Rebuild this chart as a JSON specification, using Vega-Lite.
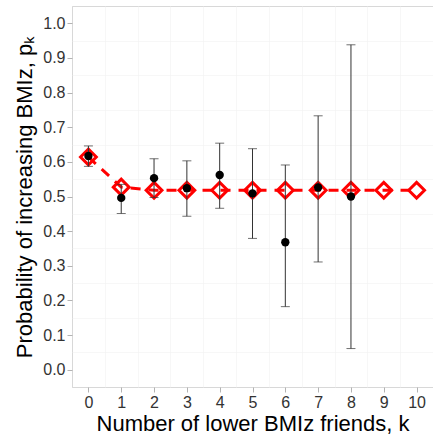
{
  "$schema": "https://vega.github.io/schema/vega-lite/v6.json",
  "autosize": "none",
  "width": 361,
  "height": 381,
  "padding": {"left": 72, "top": 6, "right": 0, "bottom": 49},
  "background": "white",
  "config": {
    "view": {"stroke": "#b3b3b3", "strokeWidth": 1},
    "axis": {
      "labelFont": "Liberation Sans",
      "titleFont": "Liberation Sans",
      "labelColor": "#333333",
      "titleColor": "#000000",
      "labelFontSize": 16,
      "titleFontSize": 22,
      "titleFontWeight": "normal",
      "domain": false,
      "tickColor": "#b3b3b3",
      "tickSize": 5,
      "gridColor": "#e6e6e6",
      "gridWidth": 0.8
    }
  },
  "datasets": {
    "observed": [
      {"k": 0, "p": 0.617, "lo": 0.587, "hi": 0.646},
      {"k": 1, "p": 0.496, "lo": 0.451, "hi": 0.535},
      {"k": 2, "p": 0.553, "lo": 0.497, "hi": 0.609},
      {"k": 3, "p": 0.524, "lo": 0.443, "hi": 0.603},
      {"k": 4, "p": 0.562, "lo": 0.466, "hi": 0.654},
      {"k": 5, "p": 0.509, "lo": 0.379, "hi": 0.638},
      {"k": 6, "p": 0.368, "lo": 0.182, "hi": 0.591},
      {"k": 7, "p": 0.526, "lo": 0.311, "hi": 0.733},
      {"k": 8, "p": 0.500, "lo": 0.061, "hi": 0.938}
    ],
    "model": [
      {"k": 0, "p": 0.614},
      {"k": 1, "p": 0.527},
      {"k": 2, "p": 0.518},
      {"k": 3, "p": 0.518},
      {"k": 4, "p": 0.518},
      {"k": 5, "p": 0.518},
      {"k": 6, "p": 0.518},
      {"k": 7, "p": 0.518},
      {"k": 8, "p": 0.518},
      {"k": 9, "p": 0.518},
      {"k": 10, "p": 0.518}
    ]
  },
  "resolve": {"axis": {"x": "independent", "y": "independent"}},
  "layer": [
    {
      "data": {"name": "model"},
      "mark": {"type": "point", "opacity": 0},
      "encoding": {
        "x": {"field": "k", "type": "quantitative",
              "scale": {"domain": [-0.5, 10.5], "nice": false, "zero": false},
              "axis": {"values": [-0.5, 0.5, 1.5, 2.5, 3.5, 4.5, 5.5, 6.5, 7.5, 8.5, 9.5, 10.5],
                       "labels": false, "ticks": false, "title": null, "orient": "top",
                       "gridColor": "#f2f2f2", "gridWidth": 0.6}},
        "y": {"field": "p", "type": "quantitative",
              "scale": {"domain": [-0.05, 1.05], "nice": false, "zero": false},
              "axis": {"values": [-0.05, 0.05, 0.15, 0.25, 0.35, 0.45, 0.55, 0.65, 0.75, 0.85, 0.95, 1.05],
                       "labels": false, "ticks": false, "title": null, "orient": "right",
                       "gridColor": "#f2f2f2", "gridWidth": 0.6}}
      }
    },
    {
      "data": {"name": "model"},
      "mark": {"type": "line", "color": "#ff0000", "strokeWidth": 3, "strokeDash": [10, 8]},
      "encoding": {
        "x": {"field": "k", "type": "quantitative",
              "axis": {"values": [0, 1, 2, 3, 4, 5, 6, 7, 8, 9, 10], "format": "d",
                       "title": "Number of lower BMIz friends, k", "orient": "bottom",
                       "labelPadding": 2, "titlePadding": 3}},
        "y": {"field": "p", "type": "quantitative",
              "axis": {"values": [0, 0.1, 0.2, 0.3, 0.4, 0.5, 0.6, 0.7, 0.8, 0.9, 1.0], "format": ".1f",
                       "title": "Probability of increasing BMIz, pₖ", "orient": "left",
                       "labelPadding": 2, "titlePadding": 6}}
      }
    },
    {
      "data": {"name": "model"},
      "mark": {"type": "point", "shape": "diamond", "size": 250, "filled": false,
               "color": "#ff0000", "strokeWidth": 3, "opacity": 1},
      "encoding": {
        "x": {"field": "k", "type": "quantitative", "axis": null},
        "y": {"field": "p", "type": "quantitative", "axis": null}
      }
    },
    {
      "data": {"name": "observed"},
      "mark": {"type": "rule", "color": "#333333", "strokeWidth": 1},
      "encoding": {
        "x": {"field": "k", "type": "quantitative", "axis": null},
        "y": {"field": "lo", "type": "quantitative", "axis": null},
        "y2": {"field": "hi"}
      }
    },
    {
      "data": {"name": "observed"},
      "mark": {"type": "tick", "orient": "horizontal", "color": "#333333", "size": 9, "thickness": 1},
      "encoding": {
        "x": {"field": "k", "type": "quantitative", "axis": null},
        "y": {"field": "lo", "type": "quantitative", "axis": null}
      }
    },
    {
      "data": {"name": "observed"},
      "mark": {"type": "tick", "orient": "horizontal", "color": "#333333", "size": 9, "thickness": 1},
      "encoding": {
        "x": {"field": "k", "type": "quantitative", "axis": null},
        "y": {"field": "hi", "type": "quantitative", "axis": null}
      }
    },
    {
      "data": {"name": "observed"},
      "mark": {"type": "circle", "color": "#000000", "size": 70, "opacity": 1},
      "encoding": {
        "x": {"field": "k", "type": "quantitative", "axis": null},
        "y": {"field": "p", "type": "quantitative", "axis": null}
      }
    }
  ]
}
